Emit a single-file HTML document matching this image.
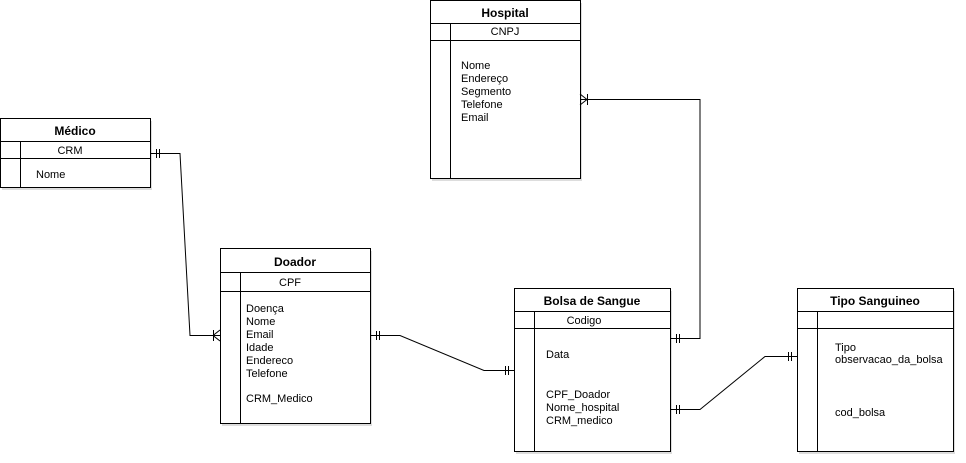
<!DOCTYPE html>
<html><head><meta charset="utf-8"><style>
html,body{margin:0;padding:0;background:#fff;}
svg{display:block;font-family:"Liberation Sans",Arial,sans-serif;}
.t{font-size:12px;font-weight:bold;text-anchor:middle;fill:#000;}
.a{font-size:11px;fill:#000;}
.b{fill:#fff;stroke:#000;stroke-width:1;}
.l{fill:none;stroke:#000;stroke-width:1;}
.s{fill:#bbb;opacity:.5;}
</style></head><body>
<svg width="966" height="463" viewBox="0 0 966 463">
<!-- shadows -->
<rect class="s" x="432" y="3" width="150" height="178"/>
<rect class="s" x="2" y="121" width="150" height="69"/>
<rect class="s" x="222" y="251" width="150" height="175"/>
<rect class="s" x="516" y="291" width="156" height="163"/>
<rect class="s" x="799" y="291" width="156" height="163"/>

<!-- Hospital -->
<rect class="b" x="430.5" y="0.5" width="150" height="178"/>
<line class="l" x1="430" y1="23.5" x2="580" y2="23.5"/>
<line class="l" x1="430" y1="40.5" x2="580" y2="40.5"/>
<line class="l" x1="450.5" y1="23" x2="450.5" y2="178"/>
<text class="t" x="505" y="17">Hospital</text>
<text class="a" x="505" y="35" text-anchor="middle">CNPJ</text>
<text class="a" x="461" y="69">Nome</text>
<text class="a" x="461" y="82">Endereço</text>
<text class="a" x="461" y="95">Segmento</text>
<text class="a" x="461" y="108">Telefone</text>
<text class="a" x="461" y="121">Email</text>

<!-- Medico -->
<rect class="b" x="0.5" y="118.5" width="150" height="69"/>
<line class="l" x1="0" y1="141.5" x2="150" y2="141.5"/>
<line class="l" x1="0" y1="158.5" x2="150" y2="158.5"/>
<line class="l" x1="20.5" y1="141" x2="20.5" y2="187"/>
<text class="t" x="75" y="135">Médico</text>
<text class="a" x="70" y="154" text-anchor="middle">CRM</text>
<text class="a" x="36" y="178">Nome</text>

<!-- Doador -->
<rect class="b" x="220.5" y="248.5" width="150" height="175"/>
<line class="l" x1="220" y1="272.5" x2="370" y2="272.5"/>
<line class="l" x1="220" y1="291.5" x2="370" y2="291.5"/>
<line class="l" x1="240.5" y1="272" x2="240.5" y2="423"/>
<text class="t" x="295" y="266">Doador</text>
<text class="a" x="290" y="286" text-anchor="middle">CPF</text>
<text class="a" x="246" y="312">Doença</text>
<text class="a" x="246" y="325">Nome</text>
<text class="a" x="246" y="338">Email</text>
<text class="a" x="246" y="351">Idade</text>
<text class="a" x="246" y="364">Endereco</text>
<text class="a" x="246" y="377">Telefone</text>
<text class="a" x="246" y="402">CRM_Medico</text>

<!-- Bolsa -->
<rect class="b" x="514.5" y="288.5" width="156" height="163"/>
<line class="l" x1="514" y1="311.5" x2="670" y2="311.5"/>
<line class="l" x1="514" y1="328.5" x2="670" y2="328.5"/>
<line class="l" x1="534.5" y1="311" x2="534.5" y2="451"/>
<text class="t" x="592" y="305">Bolsa de Sangue</text>
<text class="a" x="584" y="324" text-anchor="middle">Codigo</text>
<text class="a" x="546" y="358">Data</text>
<text class="a" x="546" y="398">CPF_Doador</text>
<text class="a" x="546" y="411">Nome_hospital</text>
<text class="a" x="546" y="424">CRM_medico</text>

<!-- Tipo -->
<rect class="b" x="797.5" y="288.5" width="156" height="163"/>
<line class="l" x1="797" y1="311.5" x2="953" y2="311.5"/>
<line class="l" x1="797" y1="328.5" x2="953" y2="328.5"/>
<line class="l" x1="817.5" y1="311" x2="817.5" y2="451"/>
<text class="t" x="875" y="305">Tipo Sanguineo</text>
<text class="a" x="835" y="351">Tipo</text>
<text class="a" x="835" y="363">observacao_da_bolsa</text>
<text class="a" x="835" y="416">cod_bolsa</text>

<!-- connectors -->
<polyline class="l" points="150,153.5 180,153.5 190,335.5 220,335.5"/>
<line class="l" x1="156.5" y1="149" x2="156.5" y2="158"/>
<line class="l" x1="159.5" y1="149" x2="159.5" y2="158"/>
<line class="l" x1="213.5" y1="330" x2="213.5" y2="341"/>
<polyline class="l" points="220,330 213,335.5 220,341"/>

<polyline class="l" points="370,335.5 400,335.5 484,370.5 514,370.5"/>
<line class="l" x1="376.5" y1="331" x2="376.5" y2="340"/>
<line class="l" x1="379.5" y1="331" x2="379.5" y2="340"/>
<line class="l" x1="505.5" y1="366" x2="505.5" y2="375"/>
<line class="l" x1="508.5" y1="366" x2="508.5" y2="375"/>

<polyline class="l" points="670,338.5 700,338.5 700,99.5 580,99.5"/>
<line class="l" x1="676.5" y1="334" x2="676.5" y2="343"/>
<line class="l" x1="679.5" y1="334" x2="679.5" y2="343"/>
<line class="l" x1="587.5" y1="94" x2="587.5" y2="105"/>
<polyline class="l" points="580,94 587,99.5 580,105"/>

<polyline class="l" points="670,409.5 700,409.5 765,356.5 797,356.5"/>
<line class="l" x1="676.5" y1="405" x2="676.5" y2="414"/>
<line class="l" x1="679.5" y1="405" x2="679.5" y2="414"/>
<line class="l" x1="788.5" y1="352" x2="788.5" y2="361"/>
<line class="l" x1="791.5" y1="352" x2="791.5" y2="361"/>
</svg>
</body></html>
